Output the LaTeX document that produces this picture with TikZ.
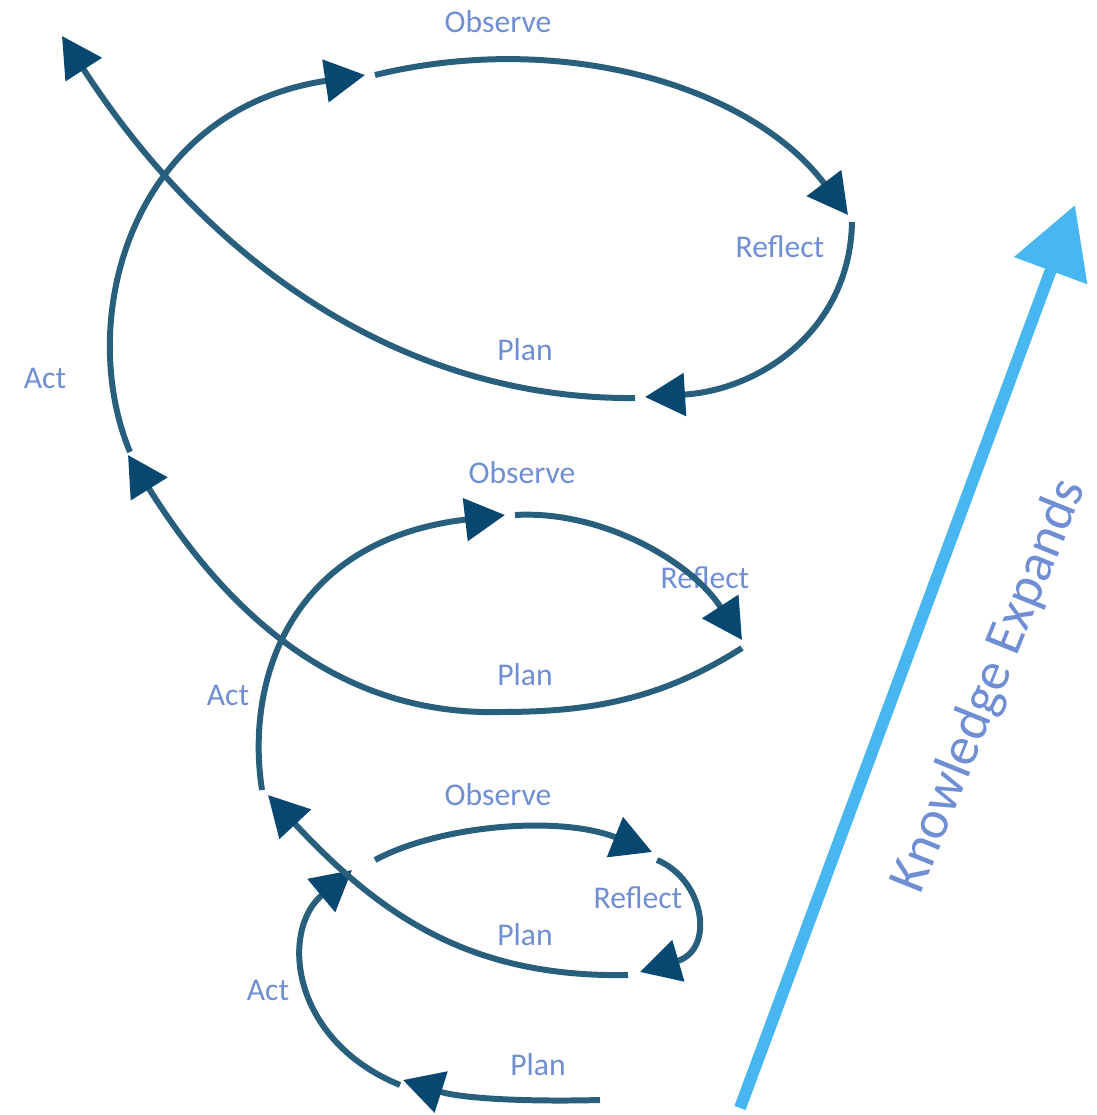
\documentclass[tikz,border=0pt]{standalone}
\usepackage{fontspec}
\setmainfont{Carlito}
\usetikzlibrary{arrows.meta}
\definecolor{lineblue}{RGB}{40,95,125}
\definecolor{headblue}{RGB}{8,72,112}
\definecolor{labblue}{RGB}{112,142,212}
\definecolor{knowblue}{RGB}{72,182,240}
\begin{document}
\begin{tikzpicture}[x=0.01cm,y=-0.01cm,
  conn/.style={draw=lineblue,line width=1.7pt,
    -{Triangle[length=4mm,width=4.2mm,color=headblue]}},
  lab/.style={text=labblue,font=\fontsize{9}{10}\selectfont,inner sep=0pt},
  know/.style={draw=knowblue,line width=3.4pt,
    -{Triangle[length=7mm,width=7.5mm,color=knowblue]}}]
\useasboundingbox (0,0) rectangle (1096,1115);
% labels
\node[lab] (o1) at (498,22) {Observe};
\node[lab] (r1) at (780,247) {Reflect};
\node[lab] (p1) at (525,350) {Plan};
\node[lab] (a1) at (45,378) {Act};
\node[lab] (o2) at (522,473) {Observe};
\node[lab] (r2) at (705,578) {Reflect};
\node[lab] (p2) at (525,675) {Plan};
\node[lab] (a2) at (228,695) {Act};
\node[lab] (o3) at (498,795) {Observe};
\node[lab] (r3) at (638,898) {Reflect};
\node[lab] (p3) at (525,935) {Plan};
\node[lab] (a3) at (268,990) {Act};
\node[lab] (p4) at (538,1065) {Plan};
\node[text=labblue,font=\fontsize{15.5}{17}\selectfont,inner sep=0pt] (ke) at (990,686) {\rotatebox{68}{Knowledge Expands}};
% endpoints
\coordinate (s1) at (600,1100);  \coordinate (e1) at (403,1080);
\coordinate (s2) at (400,1085);  \coordinate (e2) at (352,870);
\coordinate (s3) at (375,860);   \coordinate (e3) at (652,852);
\coordinate (s4) at (657,860);   \coordinate (e4) at (640,972);
\coordinate (s5) at (628,975);   \coordinate (e5) at (268,795);
\coordinate (s6) at (262,790);   \coordinate (e6) at (505,515);
\coordinate (s7) at (515,515);   \coordinate (e7) at (742,640);
\coordinate (s8) at (742,648);   \coordinate (m8) at (500,712); \coordinate (e8) at (128,455);
\coordinate (s9) at (130,452);   \coordinate (e9) at (365,75);
\coordinate (s10) at (375,75);   \coordinate (e10) at (848,215);
\coordinate (s11) at (852,222);  \coordinate (e11) at (645,397);
\coordinate (s12) at (635,398);  \coordinate (e12) at (62,36);
\coordinate (ks) at (740,1108);  \coordinate (ke2) at (1075,205);
% connectors
\draw[know] (ks) -- (ke2);
\draw[conn] (s1) .. controls (520,1102) and (460,1098) .. (e1);
\draw[conn] (s2) .. controls (290,1040) and (280,930) .. (e2);
\draw[conn] (s3) .. controls (440,825) and (560,815) .. (e3);
\draw[conn] (s4) .. controls (705,880) and (715,950) .. (e4);
\draw[conn] (s5) .. controls (470,978) and (380,915) .. (e5);
\draw[conn] (s6) .. controls (245,680) and (290,540) .. (e6);
\draw[conn] (s7) .. controls (600,510) and (690,560) .. (e7);
\draw[conn] (s8) .. controls (660,700) and (590,712) .. (m8) .. controls (370,715) and (250,650) .. (e8);
\draw[conn] (s9) .. controls (75,320) and (130,110) .. (e9);
\draw[conn] (s10) .. controls (560,30) and (750,85) .. (e10);
\draw[conn] (s11) .. controls (850,330) and (760,390) .. (e11);
\draw[conn] (s12) .. controls (420,400) and (220,280) .. (e12);
\end{tikzpicture}
\end{document}
